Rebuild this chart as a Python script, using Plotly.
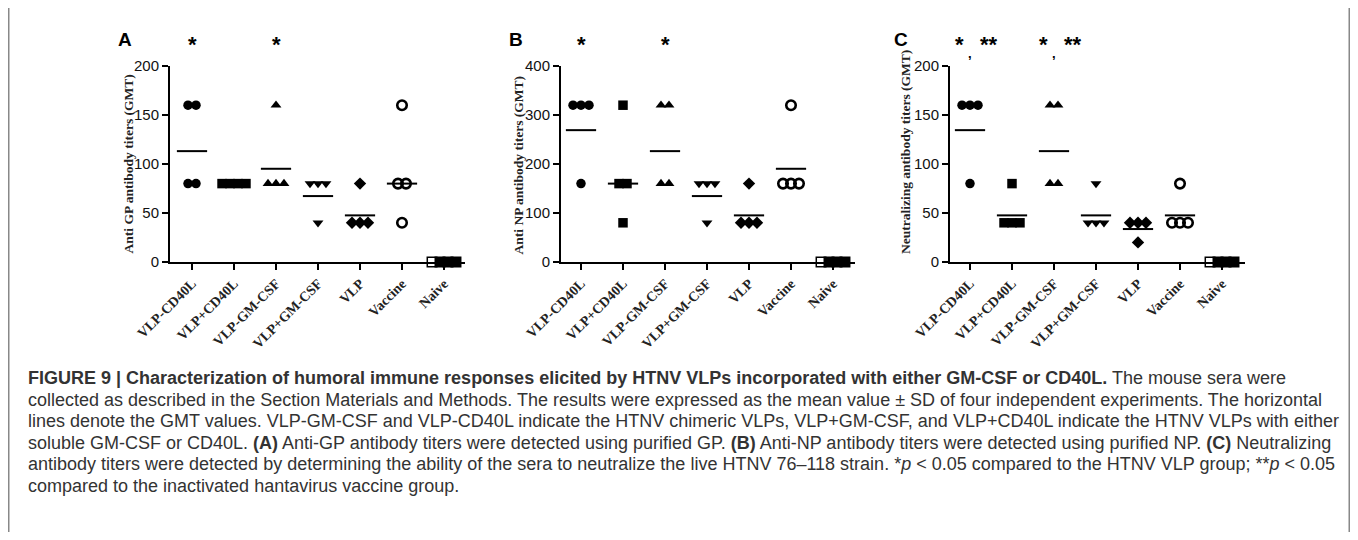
import plotly.graph_objects as go
import numpy as np

OFF = 8  # page body margin
W, H = 1358 - 2 * OFF, 540 - 2 * OFF

categories = ["VLP-CD40L", "VLP+CD40L", "VLP-GM-CSF", "VLP+GM-CSF", "VLP", "Vaccine", "Naive"]

gp_values = [
    [160, 160, 80, 80],
    [80, 80, 80, 80],
    [160, 80, 80, 80],
    [80, 80, 80, 40],
    [80, 40, 40, 40],
    [160, 80, 80, 40],
    [0, 0, 0, 0],
]
np_values = [
    [320, 320, 320, 160],
    [320, 160, 160, 80],
    [320, 320, 160, 160],
    [160, 160, 160, 80],
    [160, 80, 80, 80],
    [320, 160, 160, 160],
    [0, 0, 0, 0],
]
neut_values = [
    [160, 160, 160, 80],
    [80, 40, 40, 40],
    [160, 160, 80, 80],
    [80, 40, 40, 40],
    [40, 40, 40, 20],
    [80, 40, 40, 40],
    [0, 0, 0, 0],
]

y_titles = ["Anti GP antibody titers (GMT)", "Anti NP antibody titers (GMT)",
            "Neutralizing antibody titers (GMT)"]
y_ranges = [200, 400, 200]
y_dticks = [50, 100, 50]
panel_letters = ["A", "B", "C"]

symbols = ["circle", "square", "triangle-up", "triangle-down", "diamond", "circle-open", "square"]

# layout in pixels (page coordinates)
axis_left = [170, 561, 950]
axis_right = [465, 855, 1245]
first_tick = [192, 581, 970]
spacing = 42.0
y0_px, ytop_px = 262, 66


def px_x(p):
    return (p - OFF) / W


def px_y(p):
    return 1 - (p - OFF) / H


fig = go.Figure()

datasets = [gp_values, np_values, neut_values]
for k, data in enumerate(datasets):
    xa = "x" if k == 0 else f"x{k+1}"
    ya = "y" if k == 0 else f"y{k+1}"
    for ci, vals in enumerate(data):
        xs, ys = [], []
        uniq = {}
        for v in vals:
            uniq.setdefault(v, 0)
            uniq[v] += 1
        for v, n in uniq.items():
            step = 0.19
            for j in range(n):
                xs.append(ci + (j - (n - 1) / 2) * step)
                ys.append(v)
        if ci == 6:
            sym = ["square-open", "square", "square", "square"]
            lw = 1.5
        elif ci == 5:
            sym = "circle-open"
            lw = 2.6
        else:
            sym = symbols[ci]
            lw = 0
        fig.add_trace(go.Scatter(
            x=xs, y=ys, mode="markers", xaxis=xa, yaxis=ya,
            marker=dict(symbol=sym, size=9.5, color="black",
                        line=dict(color="black", width=lw)),
            cliponaxis=False, showlegend=False, hoverinfo="skip"))
        arr = np.array(vals, dtype=float)
        if np.all(arr > 0):
            gmt = float(np.exp(np.mean(np.log(arr))))
            fig.add_trace(go.Scatter(
                x=[ci - 0.36, ci + 0.36], y=[gmt, gmt], mode="lines",
                xaxis=xa, yaxis=ya, line=dict(color="black", width=2),
                showlegend=False, hoverinfo="skip", cliponaxis=False))

tickfont_x = dict(family="Liberation Serif", size=14, color="#222")
for k in range(3):
    xname = "xaxis" if k == 0 else f"xaxis{k+1}"
    yname = "yaxis" if k == 0 else f"yaxis{k+1}"
    xmin = (axis_left[k] - first_tick[k]) / spacing
    xmax = (axis_right[k] - first_tick[k]) / spacing
    fig.layout[xname] = dict(
        domain=[px_x(axis_left[k]), px_x(axis_right[k])],
        anchor="y" if k == 0 else f"y{k+1}",
        range=[xmin, xmax], tickvals=list(range(7)),
        ticktext=[f"<b>{c}</b>" for c in categories],
        tickangle=-45, ticks="outside", ticklen=6, tickwidth=2, tickcolor="black",
        showline=True, linecolor="black", linewidth=2, showgrid=False, zeroline=False,
        tickfont=tickfont_x, fixedrange=True, automargin=False)
    fig.layout[yname] = dict(
        domain=[px_y(y0_px), px_y(ytop_px)],
        anchor="x" if k == 0 else f"x{k+1}",
        range=[0, y_ranges[k]], dtick=y_dticks[k],
        ticks="outside", ticklen=6, tickwidth=2, tickcolor="black",
        showline=True, linecolor="black", linewidth=2, showgrid=False, zeroline=False,
        tickfont=dict(family="Liberation Sans", size=15, color="#111"), fixedrange=True,
        automargin=False)

annotations = []
letter_x = [125, 516, 901]
title_x = [128, 518, 905]
for k in range(3):
    annotations.append(dict(text=f"<b>{panel_letters[k]}</b>", x=px_x(letter_x[k]), y=px_y(40),
                            xref="paper", yref="paper", showarrow=False,
                            xanchor="center", yanchor="middle",
                            font=dict(family="Liberation Sans", size=19, color="black")))
    annotations.append(dict(text=f"<b>{y_titles[k]}</b>", x=px_x(title_x[k]), y=px_y(256),
                            xref="paper", yref="paper", showarrow=False, textangle=-90,
                            xanchor="center", yanchor="bottom",
                            font=dict(family="Liberation Serif", size=13.5, color="#222")))

star_font = dict(family="Liberation Sans", size=22, color="black")
for k in (0, 1):
    for ci in (0, 2):
        annotations.append(dict(text="<b>*</b>", x=px_x(first_tick[k] + ci * spacing), y=px_y(44),
                                xref="paper", yref="paper", showarrow=False,
                                xanchor="center", yanchor="middle", font=star_font))
for ci in (0, 2):
    tx = first_tick[2] + ci * spacing
    annotations.append(dict(text="<b>*</b>", x=px_x(tx - 11), y=px_y(44), xref="paper", yref="paper",
                            xanchor="center", yanchor="middle", showarrow=False, font=star_font))
    annotations.append(dict(text="<b>**</b>", x=px_x(tx + 19), y=px_y(44), xref="paper", yref="paper",
                            xanchor="center", yanchor="middle", showarrow=False, font=star_font))
    annotations.append(dict(text="<b>,</b>", x=px_x(tx), y=px_y(53), xref="paper", yref="paper",
                            xanchor="center", yanchor="middle", showarrow=False,
                            font=dict(family="Liberation Sans", size=13, color="black")))

caption_lines = [
    "<b>FIGURE 9 | Characterization of humoral immune responses elicited by HTNV VLPs incorporated with either GM-CSF or CD40L.</b> The mouse sera were",
    "collected as described in the Section Materials and Methods. The results were expressed as the mean value ± SD of four independent experiments. The horizontal",
    "lines denote the GMT values. VLP-GM-CSF and VLP-CD40L indicate the HTNV chimeric VLPs, VLP+GM-CSF, and VLP+CD40L indicate the HTNV VLPs with either",
    "soluble GM-CSF or CD40L. <b>(A)</b> Anti-GP antibody titers were detected using purified GP. <b>(B)</b> Anti-NP antibody titers were detected using purified NP. <b>(C)</b> Neutralizing",
    "antibody titers were detected by determining the ability of the sera to neutralize the live HTNV 76–118 strain. *<i>p</i> < 0.05 compared to the HTNV VLP group; **<i>p</i> < 0.05",
    "compared to the inactivated hantavirus vaccine group.",
]
line_y = [378, 400, 421, 443, 464, 486]
for txt, yy in zip(caption_lines, line_y):
    annotations.append(dict(text=txt, x=px_x(26), y=px_y(yy), xref="paper", yref="paper",
                            xanchor="left", yanchor="middle", showarrow=False, align="left",
                            font=dict(family="Liberation Sans", size=18, color="#333")))

fig.update_layout(
    width=W, height=H, margin=dict(l=0, r=0, t=0, b=0, autoexpand=False),
    paper_bgcolor="white", plot_bgcolor="white",
    annotations=annotations,
    shapes=[
        dict(type="line", xref="paper", yref="paper", x0=0, x1=0, y0=0, y1=1,
             line=dict(color="#888", width=3)),
        dict(type="line", xref="paper", yref="paper", x0=1, x1=1, y0=0, y1=1,
             line=dict(color="#888", width=3)),
    ],
)

fig.write_html("out.html")
